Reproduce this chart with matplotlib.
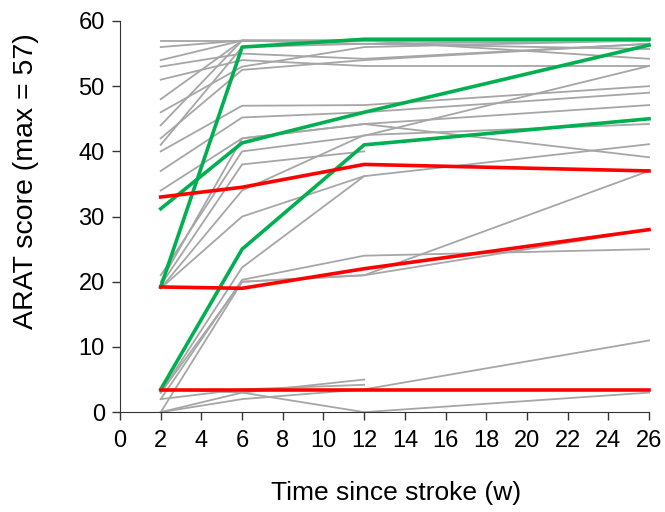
import numpy as np
import matplotlib.pyplot as plt

plt.rcParams["font.family"] = ["Liberation Sans", "DejaVu Sans"]

# Assessment times (weeks since stroke)
weeks = [2, 6, 12, 26]

# Individual patients (grey), nan = no assessment
grey_patients = [
    [57, 57, 57, 57],
    [56, 57, 57, 57],
    [54, 57, 57, 54.2],
    [53, 55, 54.2, 56.5],
    [51, 54, 53.1, 53.1],
    [48, 57, 56.5, 55.7],
    [46, 53, 56, 57],
    [44, 57, 57, 57],
    [42, 52.5, 54, 56.5],
    [41, 56, 56.5, 57],
    [40, 47, 47.1, 50],
    [37, 45.2, 46, 49],
    [34, 42, 44.2, 47.1],
    [21, 40, 42.4, 53.1],
    [20, 42, 44.2, 39.1],
    [19.5, 38, 40, np.nan],
    [19, 34, 42.5, 44.2],
    [19, 30, 36.2, 41.1],
    [3, 22.2, 36.2, np.nan],
    [2, 20.3, 24, 25],
    [0, 20, 21, 37],
    [3.5, 3, 5, np.nan],
    [2, 3.5, 4.2, np.nan],
    [0, 3, 0, 3],
    [0, 2, 3.5, 11],
    [3, 20, 21, 28],
]

# Highlighted patients
green_patients = [
    [19.2, 56, 57.2, 57.2],
    [31.2, 41.3, 46, 56.3],
    [3.5, 25, 41, 45],
]
red_patients = [
    [33, 34.5, 38, 37],
    [19.2, 19, 22, 28],
    [3.4, 3.4, 3.4, 3.4],
]

fig = plt.figure(figsize=(6.65, 5.12), dpi=100)
ax = fig.add_axes([0.1805, 0.195, 0.7955, 0.764])

for vals in grey_patients:
    ax.plot(weeks, vals, color="#a6a6a6", lw=1.3, clip_on=False)
for vals in green_patients:
    ax.plot(weeks, vals, color="#00b050", lw=2.6, clip_on=False)
for vals in red_patients:
    ax.plot(weeks, vals, color="#ff0000", lw=2.6, clip_on=False)

ax.set_xlim(0, 26)
ax.set_ylim(0, 60)
ax.set_xticks(range(0, 27, 2))
ax.set_yticks(range(0, 61, 10))
ax.tick_params(labelsize=17, length=6, width=1, color="#333333", pad=5)
ax.tick_params(axis="x", pad=7)

for side in ["top", "right"]:
    ax.spines[side].set_visible(False)
for side in ["left", "bottom"]:
    ax.spines[side].set_color("#333333")

ax.set_xlabel("Time since stroke (w)", fontsize=19)
ax.set_ylabel("ARAT score (max = 57)", fontsize=20.5)
ax.xaxis.set_label_coords(0.522, -0.175)
ax.yaxis.set_label_coords(-0.153, 0.59)

fig.savefig("out.png", dpi=100)
